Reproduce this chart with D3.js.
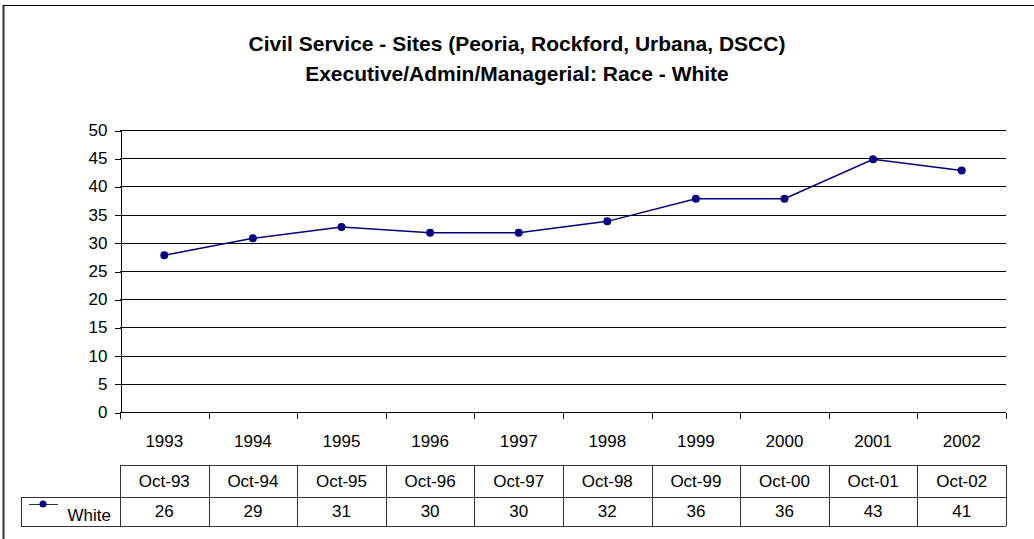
<!DOCTYPE html>
<meta charset="utf-8">
<style>
body { margin: 0; background: #fff; }
svg { display: block; font-family: "Liberation Sans", Arial, sans-serif; }
.grid line { stroke: #000; stroke-width: 1; shape-rendering: crispEdges; }
.axis path, .axis line { stroke: #000; shape-rendering: crispEdges; }
.axis text { font-size: 17px; fill: #000; }
.tbl line { stroke: #333; stroke-width: 1; shape-rendering: crispEdges; }
.tbl text { font-size: 17px; fill: #000; }
</style>
<svg width="1034" height="539"></svg>
<script src="https://cdn.jsdelivr.net/npm/d3@7/dist/d3.min.js"></script>
<script>
// data
var years = ["1993","1994","1995","1996","1997","1998","1999","2000","2001","2002"];
var months = ["Oct-93","Oct-94","Oct-95","Oct-96","Oct-97","Oct-98","Oct-99","Oct-00","Oct-01","Oct-02"];
var tableValues = [26, 29, 31, 30, 30, 32, 36, 36, 43, 41];
// where the markers sit on the plot (they sit a bit above the table numbers)
var plotted = [27.8, 30.8, 32.8, 31.8, 31.8, 33.8, 37.8, 37.8, 44.8, 42.8];
var yTicks = [0, 5, 10, 15, 20, 25, 30, 35, 40, 45, 50];
var seriesName = "White";
var titleLines = ["Civil Service - Sites (Peoria, Rockford, Urbana, DSCC)",
                  "Executive/Admin/Managerial: Race - White"];

var svg = d3.select("svg");
var plotL = 120, plotR = 1006, plotT = 130, plotB = 412;

// outer frame (runs off the right and bottom edge)
svg.append("line").attr("x1", 3.5).attr("x2", 3.5).attr("y1", 5).attr("y2", 539)
    .attr("stroke", "#333").attr("stroke-width", 2);
svg.append("line").attr("x1", 3).attr("x2", 1034).attr("y1", 5.5).attr("y2", 5.5)
    .attr("stroke", "#000").attr("stroke-width", 1);

svg.selectAll(".title").data(titleLines).enter().append("text")
    .attr("class", "title")
    .attr("x", 517).attr("y", function(d, i) { return 51 + i * 30; })
    .attr("text-anchor", "middle")
    .style("font-size", "21px").style("font-weight", "bold")
    .text(function(d) { return d; });

var x = d3.scaleBand().domain(years).range([plotL, plotR]);
var y = d3.scaleLinear().domain([0, 50]).range([plotB, plotT]);

// gridlines
svg.append("g").attr("class", "grid")
  .selectAll("line").data(yTicks.filter(function(d) { return d > 0; }))
  .enter().append("line")
    .attr("x1", plotL).attr("x2", plotR)
    .attr("y1", function(d) { return Math.round(y(d)) + 0.5; })
    .attr("y2", function(d) { return Math.round(y(d)) + 0.5; });

// y axis
var yAxis = svg.append("g").attr("class", "axis")
    .attr("transform", "translate(" + (plotL + 0.5) + ",0)")
    .call(d3.axisLeft(y).tickValues(yTicks).tickSize(6).tickPadding(7).tickSizeOuter(0));
yAxis.selectAll(".tick line").attr("transform", "translate(0,0.5)");

// x axis: ticks on category boundaries, labels centered
var xa = svg.append("g").attr("class", "axis")
    .attr("transform", "translate(0," + (plotB + 0.5) + ")");
xa.append("line").attr("x1", plotL).attr("x2", plotR).attr("stroke", "#000");
var bounds = years.map(function(d) { return x(d); }).concat([plotR]);
xa.selectAll(".tk").data(bounds).enter().append("line")
    .attr("x1", function(d) { return Math.round(d) + 0.5; })
    .attr("x2", function(d) { return Math.round(d) + 0.5; })
    .attr("y1", 0).attr("y2", 6).attr("stroke", "#000");
xa.selectAll(".yl").data(years).enter().append("text")
    .attr("x", function(d) { return x(d) + x.bandwidth() / 2; })
    .attr("y", 34).attr("text-anchor", "middle")
    .text(function(d) { return d; });

// series
var line = d3.line()
    .x(function(d, i) { return x(years[i]) + x.bandwidth() / 2; })
    .y(function(d) { return y(d); });
svg.append("path").datum(plotted)
    .attr("d", line).attr("fill", "none")
    .attr("stroke", "#000080").attr("stroke-width", 1.5);
svg.selectAll(".dot").data(plotted).enter().append("circle")
    .attr("cx", function(d, i) { return x(years[i]) + x.bandwidth() / 2; })
    .attr("cy", function(d) { return y(d); })
    .attr("r", 4).attr("fill", "#000080");

// data table
var tTop = 465, tMid = 497, tBot = 526, legL = 21;
var tbl = svg.append("g").attr("class", "tbl");
tbl.append("line").attr("x1", plotL).attr("x2", plotR).attr("y1", tTop + 0.5).attr("y2", tTop + 0.5);
tbl.append("line").attr("x1", legL).attr("x2", plotR).attr("y1", tMid + 0.5).attr("y2", tMid + 0.5);
tbl.append("line").attr("x1", legL).attr("x2", plotR).attr("y1", tBot + 0.5).attr("y2", tBot + 0.5);
tbl.append("line").attr("x1", legL + 0.5).attr("x2", legL + 0.5).attr("y1", tMid).attr("y2", tBot);
tbl.selectAll(".vl").data(bounds).enter().append("line")
    .attr("x1", function(d) { return Math.round(d) + 0.5; })
    .attr("x2", function(d) { return Math.round(d) + 0.5; })
    .attr("y1", tTop).attr("y2", tBot);
tbl.selectAll(".mo").data(months).enter().append("text")
    .attr("x", function(d, i) { return x(years[i]) + x.bandwidth() / 2; })
    .attr("y", tMid - 10).attr("text-anchor", "middle")
    .text(function(d) { return d; });
tbl.selectAll(".val").data(tableValues).enter().append("text")
    .attr("x", function(d, i) { return x(years[i]) + x.bandwidth() / 2; })
    .attr("y", tBot - 9).attr("text-anchor", "middle")
    .text(function(d) { return d; });

// legend key in the table
tbl.append("line").attr("x1", 29).attr("x2", 58).attr("y1", 504).attr("y2", 504)
    .attr("stroke", "#000080").attr("stroke-width", 1.5);
tbl.append("circle").attr("cx", 43).attr("cy", 504).attr("r", 3.5).attr("fill", "#000080");
tbl.append("text").attr("x", 111).attr("y", tBot - 5).attr("text-anchor", "end")
    .text(seriesName);
</script>
